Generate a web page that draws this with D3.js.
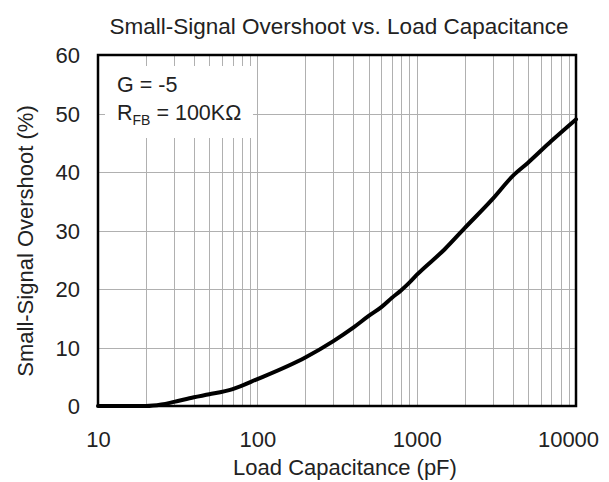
<!DOCTYPE html>
<html>
<head>
<meta charset="utf-8">
<script src="https://cdn.jsdelivr.net/npm/d3@7"></script>
<style>
  html, body { margin: 0; padding: 0; background: #fff; }
  svg { display: block; font-family: "Liberation Sans", Arial, sans-serif; }
</style>
</head>
<body>
<svg id="chart" width="609" height="482"></svg>
<script>
// ---- data ----
const capacitance = [10, 20, 25, 30, 40, 50, 70, 100, 200, 300, 400, 500, 600, 700, 800, 900, 1000, 1500, 2000, 3000, 4000, 5000, 7000, 10000];
const overshoot   = [0, 0, 0.25, 0.7, 1.5, 2.0, 2.9, 4.6, 8.3, 11.1, 13.4, 15.4, 16.9, 18.5, 19.8, 21.1, 22.4, 26.8, 30.4, 35.4, 39.3, 41.6, 45.3, 49];
const xTicks = [10, 100, 1000, 10000];
const yTicks = [0, 10, 20, 30, 40, 50, 60];
const titleText = "Small-Signal Overshoot vs. Load Capacitance";
const xLabel = "Load Capacitance (pF)";
const yLabel = "Small-Signal Overshoot (%)";

(function () {
// ---- layout ----
const pL = 98, pR = 576, pT = 55, pB = 406;

const svg = d3.select("#chart");
const x = d3.scaleLog().domain([10, 10000]).range([pL, pR]);
const y = d3.scaleLinear().domain([0, 60]).range([pB, pT]);

// minor/major vertical gridlines
const gridX = [];
for (let dec = 10; dec < 10000; dec *= 10) {
  for (let m = 1; m <= 9; m++) gridX.push(dec * m);
}
gridX.push(10000);

const grid = svg.append("g").attr("stroke", "#b0b0b0").attr("stroke-width", 1);
grid.selectAll("line.vx").data(gridX).join("line")
  .attr("x1", d => Math.round(x(d)) + 0.5).attr("x2", d => Math.round(x(d)) + 0.5)
  .attr("y1", pT).attr("y2", pB);
grid.selectAll("line.hy").data(yTicks).join("line")
  .attr("y1", d => Math.round(y(d)) + 0.5).attr("y2", d => Math.round(y(d)) + 0.5)
  .attr("x1", pL).attr("x2", pR);

// white box behind annotation
svg.append("rect").attr("x", 105).attr("y", 66).attr("width", 148).attr("height", 72).attr("fill", "#fff");

// annotation
const ann = svg.append("g").attr("fill", "#222").attr("font-size", 21.5);
ann.append("text").attr("x", 117).attr("y", 92).text("G = -5");
const t2 = ann.append("text").attr("x", 117).attr("y", 120);
t2.append("tspan").text("R");
t2.append("tspan").attr("font-size", 14).attr("dy", 5).text("FB");
t2.append("tspan").attr("dy", -5).text(" = 100KΩ");

// curve
const pts = capacitance.map((c, i) => [c, overshoot[i]]);
const line = d3.line().x(d => x(d[0])).y(d => y(d[1])).curve(d3.curveMonotoneX);
svg.append("path").datum(pts).attr("d", line)
  .attr("fill", "none").attr("stroke", "#000").attr("stroke-width", 4)
  .attr("stroke-linejoin", "round").attr("stroke-linecap", "round");

// frame
svg.append("rect").attr("x", pL).attr("y", pT).attr("width", pR - pL).attr("height", pB - pT)
  .attr("fill", "none").attr("stroke", "#000").attr("stroke-width", 2.5);

// axes labels (via d3 axes, domain/ticks hidden)
const xAxis = d3.axisBottom(x).tickValues(xTicks).tickFormat(d3.format("d")).tickSize(0).tickPadding(0);
const gx = svg.append("g").attr("transform", `translate(0,${pB})`).call(xAxis);
gx.select(".domain").remove();
gx.selectAll("text").attr("font-size", 22).attr("fill", "#222")
  .attr("font-family", "Liberation Sans, Arial, sans-serif")
  .attr("dy", null).attr("y", 41)
  .attr("dx", (d, i) => i === xTicks.length - 1 ? -8 : 0);

const yAxis = d3.axisLeft(y).tickValues(yTicks).tickFormat(d3.format("d")).tickSize(0).tickPadding(0);
const gy = svg.append("g").attr("transform", `translate(${pL},0)`).call(yAxis);
gy.select(".domain").remove();
gy.selectAll("text").attr("font-size", 22).attr("fill", "#222")
  .attr("font-family", "Liberation Sans, Arial, sans-serif")
  .attr("x", -18).attr("dy", "0.36em");

// title
svg.append("text").attr("x", 339).attr("y", 34).attr("text-anchor", "middle")
  .attr("font-size", 22.5).attr("fill", "#222").text(titleText);

// x label
svg.append("text").attr("x", 345).attr("y", 475).attr("text-anchor", "middle")
  .attr("font-size", 22).attr("fill", "#222").text(xLabel);

// y label
svg.append("text").attr("transform", "translate(33,241) rotate(-90)").attr("text-anchor", "middle")
  .attr("font-size", 22).attr("fill", "#222").text(yLabel);
})();
</script>
</body>
</html>
